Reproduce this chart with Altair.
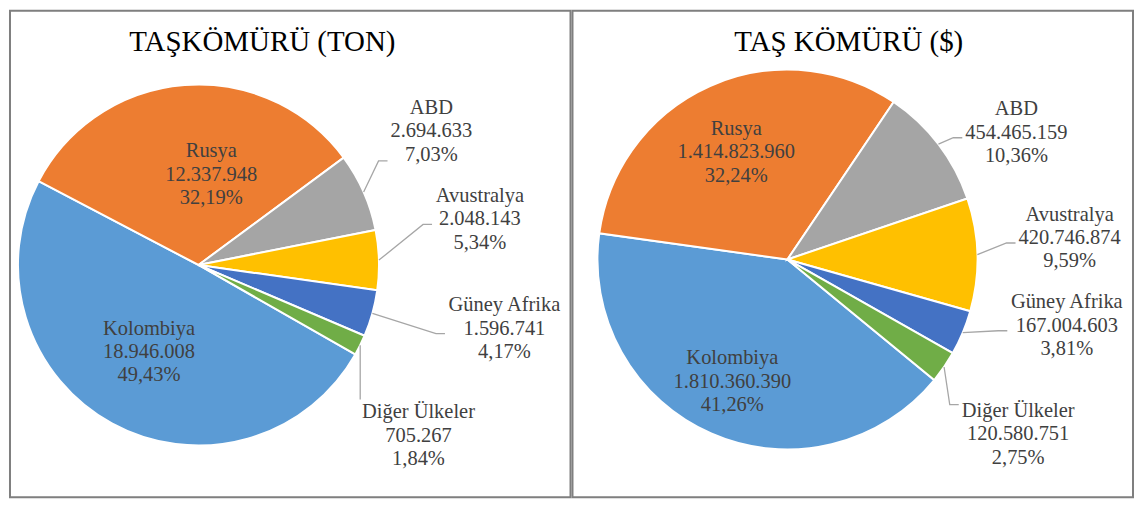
import math
import altair as alt
import pandas as pd

# ---------------- data ----------------
countries = ["Kolombiya", "Rusya", "ABD", "Avustralya", "Güney Afrika", "Diğer Ülkeler"]
colors = ["#5B9BD5", "#ED7D31", "#A5A5A5", "#FFC000", "#4472C4", "#70AD47"]
ton_values = [18946008, 12337948, 2694633, 2048143, 1596741, 705267]
usd_values = [1810360390, 1414823960, 454465159, 420746874, 167004603, 120580751]
titles = ["TAŞKÖMÜRÜ (TON)", "TAŞ KÖMÜRÜ ($)"]

# ---------------- layout / style ----------------
PANEL_W, PANEL_H = 562, 488
FONT = "Liberation Serif"
FS = 20.5
LINE_H = 23.5
TITLE_FS = 29
LABEL_COLOR = "#404040"
LEADER_COLOR = "#A6A6A6"

layouts = [
    dict(cx=189, cy=255, r=181, start=119.7, title_x=253, title_y=40,
         shift=[1.2, 12.4, -6.2, -7.85, -4.0, 11.3],
         k=[0.55, 0.51, 1.49, 1.58, 1.73, 1.54]),
    dict(cx=215.5, cy=249.5, r=190.5, start=129.4, title_x=277, title_y=40,
         shift=[0.8, -1.3, 8.2, -3.1, -9.5, 2.5],
         k=[0.70, 0.63, 1.38, 1.49, 1.51, 1.52]),
]
inside = [True, True, False, False, False, False]

CW = {'.': .25, ',': .25, '%': .833, ' ': .25, 'A': .722, 'B': .667, 'D': .722,
      'G': .722, 'K': .722, 'R': .667, 'Ü': .722, 'a': .444, 'b': .5, 'e': .444,
      'f': .333, 'ğ': .5, 'i': .278, 'k': .5, 'l': .278, 'm': .778, 'n': .5,
      'o': .5, 'r': .333, 's': .389, 't': .278, 'u': .5, 'v': .5, 'y': .5, 'ü': .5}


def text_w(s):
    return sum(CW.get(c, .5) for c in s) * FS


def fmt_num(v):
    return f"{v:,}".replace(",", ".")


def fmt_pct(p):
    return f"{p * 100:.2f}".replace(".", ",") + "%"


XS = alt.Scale(domain=[0, PANEL_W], nice=False, zero=False)
YS = alt.Scale(domain=[0, PANEL_H], nice=False, zero=False, reverse=True)


def panel(values, L, title):
    total = sum(values)
    cx, cy, R = L["cx"], L["cy"], L["r"]
    label_rows, line_rows = [], []
    cum = 0.0
    for i, v in enumerate(values):
        a_start = L["start"] + 360.0 * cum / total
        mid = a_start + 180.0 * v / total
        cum += v
        ang = math.radians(mid + L["shift"][i])
        lx = cx + L["k"][i] * R * math.sin(ang)
        ly = cy - L["k"][i] * R * math.cos(ang) + 1
        lines = [countries[i], fmt_num(v), fmt_pct(v / total)]
        for j, t in enumerate(lines):
            label_rows.append(dict(x=lx, y=ly + (j - 1) * LINE_H, text=t))
        if inside[i]:
            continue
        # leader line from the slice edge to the label
        m = math.radians(mid)
        sx, sy = cx + R * math.sin(m), cy - R * math.cos(m)
        hw = max(text_w(t) for t in lines) / 2
        left = lx - hw
        top = ly - LINE_H - 10
        bottom = ly + LINE_H + 10
        if left - sx < 10:
            ex = sx
            ey = top - 3 if ly > sy else bottom + 3
            pts = [(sx, sy), (ex, ey)]
        else:
            ex = left - 3
            emid = ly + 5
            if abs(sy - emid) <= 45:
                ey = emid
            else:
                ey = bottom - 4 if sy > ly else top + 4
            pts = [(sx, sy), (ex - 9, ey), (ex, ey)]
        for o, (px, py) in enumerate(pts):
            line_rows.append(dict(seg=i, ord=o, x=px, y=py))

    arc_df = pd.DataFrame({"idx": list(range(len(values))), "country": countries, "value": values})
    a0 = math.radians(L["start"])
    arcs = alt.Chart(arc_df).mark_arc(radius=R, stroke="white", strokeWidth=2).encode(
        theta=alt.Theta("value:Q", stack=True, scale=alt.Scale(range=[a0, a0 + 2 * math.pi])),
        color=alt.Color("country:N", scale=alt.Scale(domain=countries, range=colors), legend=None),
        order=alt.Order("idx:Q"),
        x=alt.value(cx),
        y=alt.value(cy),
    )
    leaders = alt.Chart(pd.DataFrame(line_rows)).mark_line(
        color=LEADER_COLOR, strokeWidth=1.3
    ).encode(
        x=alt.X("x:Q", scale=XS, axis=None),
        y=alt.Y("y:Q", scale=YS, axis=None),
        detail="seg:N",
        order="ord:Q",
    )
    labels = alt.Chart(pd.DataFrame(label_rows)).mark_text(
        font=FONT, fontSize=FS, color=LABEL_COLOR, align="center", baseline="middle"
    ).encode(
        x=alt.X("x:Q", scale=XS, axis=None),
        y=alt.Y("y:Q", scale=YS, axis=None),
        text="text:N",
    )
    ttl = alt.Chart(pd.DataFrame({"t": [title]})).mark_text(
        font=FONT, fontSize=TITLE_FS, color="#000000", align="center", baseline="alphabetic"
    ).encode(
        text="t:N",
        x=alt.value(L["title_x"]),
        y=alt.value(L["title_y"]),
    )
    return alt.layer(arcs, leaders, labels, ttl).properties(width=PANEL_W, height=PANEL_H)


p1 = panel(ton_values, layouts[0], titles[0])
p2 = panel(usd_values, layouts[1], titles[1])

chart = alt.hconcat(p1, p2, spacing=0).resolve_scale(
    theta="independent", x="independent", y="independent"
).configure_view(
    stroke="#7F7F7F", strokeWidth=2
).properties(
    padding={"left": 1, "top": 1, "right": 1, "bottom": 1},
    background="white",
)

chart.save("out.html", embed_options={"renderer": "svg", "actions": False})
